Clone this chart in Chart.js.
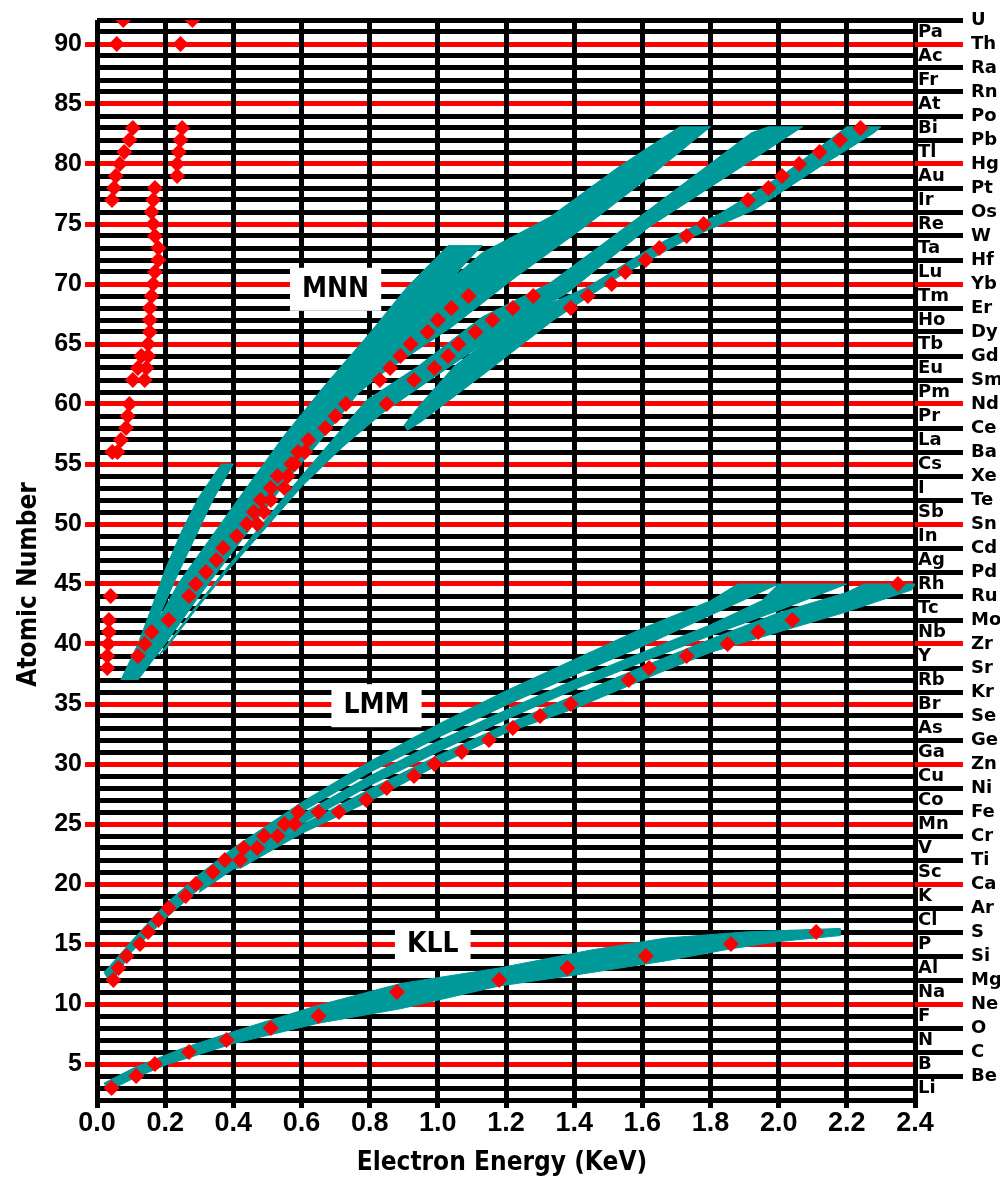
<!DOCTYPE html>
<html>
<head>
<meta charset="utf-8">
<script src="https://cdn.jsdelivr.net/npm/chart.js@4.4.1/dist/chart.umd.min.js"></script>
<style>
  html, body { margin: 0; padding: 0; background: #ffffff; }
  canvas { display: block; }
</style>
</head>
<body>
<canvas id="c" width="1000" height="1185"></canvas>
<script>
// ---------- tick / label data ----------
const xTickStep = 0.2;
const elementSymbols = ['', 'H','He','Li','Be','B','C','N','O','F','Ne','Na','Mg','Al','Si','P','S','Cl','Ar','K','Ca',
  'Sc','Ti','V','Cr','Mn','Fe','Co','Ni','Cu','Zn','Ga','Ge','As','Se','Br','Kr','Rb','Sr','Y','Zr','Nb','Mo','Tc','Ru',
  'Rh','Pd','Ag','Cd','In','Sn','Sb','Te','I','Xe','Cs','Ba','La','Ce','Pr','Nd','Pm','Sm','Eu','Gd','Tb','Dy','Ho','Er',
  'Tm','Yb','Lu','Hf','Ta','W','Re','Os','Ir','Pt','Au','Hg','Tl','Pb','Bi','Po','At','Rn','Fr','Ra','Ac','Th','Pa','U'];
const bandLabelText = ['MNN', 'LMM', 'KLL'];
const bandLabelE = [0.70, 0.82, 0.985];
const bandLabelZ = [69.6, 34.9, 15.0];

// ---------- measured Auger peaks (red diamonds): energy (keV) and atomic number ----------
const kllE = [0.043, 0.115, 0.17, 0.27, 0.38, 0.51, 0.65, 0.88, 1.18, 1.38, 1.61, 1.86, 2.11];
const kllZ = [3, 4, 5, 6, 7, 8, 9, 11, 12, 13, 14, 15, 16];

const lmm1E = [0.048, 0.063, 0.087, 0.126, 0.15, 0.18, 0.21, 0.26, 0.29, 0.34, 0.375, 0.43, 0.49, 0.55, 0.59];
const lmm1Z = [12, 13, 14, 15, 16, 17, 18, 19, 20, 21, 22, 23, 24, 25, 26];
const lmm2E = [0.42, 0.47, 0.53, 0.58, 0.65, 0.71, 0.79, 0.85, 0.93, 0.99, 1.07, 1.15, 1.22, 1.30, 1.39, 1.56, 1.62, 1.73, 1.85, 1.94, 2.04, 2.35];
const lmm2Z = [22, 23, 24, 25, 26, 26, 27, 28, 29, 30, 31, 32, 33, 34, 35, 37, 38, 39, 40, 41, 42, 45];

const mnn1E = [0.12, 0.14, 0.16, 0.21, 0.27, 0.29, 0.32, 0.35, 0.37, 0.41, 0.44, 0.46, 0.48, 0.51, 0.53, 0.57, 0.59, 0.62, 0.67, 0.70, 0.73, 0.83, 0.86, 0.89, 0.92, 0.97, 1.00, 1.04, 1.09];
const mnn1Z = [39, 40, 41, 42, 44, 45, 46, 47, 48, 49, 50, 51, 52, 53, 54, 55, 56, 57, 58, 59, 60, 62, 63, 64, 65, 66, 67, 68, 69];
const mnn2E = [0.47, 0.49, 0.51, 0.55, 0.56, 0.58, 0.61, 0.85, 0.93, 0.99, 1.03, 1.06, 1.11, 1.16, 1.22, 1.28];
const mnn2Z = [50, 51, 52, 53, 54, 55, 56, 60, 62, 63, 64, 65, 66, 67, 68, 69];
const mnn3E = [1.39, 1.44, 1.51, 1.55, 1.61, 1.65, 1.73, 1.78, 1.91, 1.97, 2.01, 2.06, 2.12, 2.18, 2.24];
const mnn3Z = [68, 69, 70, 71, 72, 73, 74, 75, 77, 78, 79, 80, 81, 82, 83];

const noo1E = [0.044, 0.05, 0.055, 0.067, 0.08, 0.095, 0.105];
const noo1Z = [77, 78, 79, 80, 81, 82, 83];
const noo2E = [0.235, 0.235, 0.24, 0.245, 0.25];
const noo2Z = [79, 80, 81, 82, 83];
const noo3E = [0.045, 0.06, 0.07, 0.085, 0.09, 0.095, 0.105, 0.12, 0.13, 0.15, 0.155, 0.155, 0.155, 0.16, 0.165, 0.17, 0.18, 0.18, 0.17, 0.165, 0.16, 0.165, 0.17, 0.14, 0.145, 0.15];
const noo3Z = [56, 56, 57, 58, 59, 60, 62, 63, 64, 65, 66, 67, 68, 69, 70, 71, 72, 73, 74, 75, 76, 77, 78, 62, 63, 64];
const mnoE = [0.03, 0.03, 0.033, 0.035, 0.035, 0.04];
const mnoZ = [38, 39, 40, 41, 42, 44];
const heavyE = [0.058, 0.077, 0.245, 0.28];
const heavyZ = [90, 92, 90, 92];

// ---------- calculated energy bands (teal outlines): [energy keV, atomic number] ----------
const kllBand = [[0.02,3.4],[0.11,4.7],[0.25,6.3],[0.40,7.7],[0.65,9.9],[0.89,11.7],[1.18,13.0],[1.45,14.5],[1.67,15.5],[1.9,16.0],[2.18,16.3],
  [2.18,15.7],[2.0,15.2],[1.86,14.6],[1.67,13.6],[1.4,12.4],[1.18,11.5],[0.89,9.6],[0.65,8.4],[0.40,6.7],[0.2,4.9],[0.1,3.7],[0.03,2.7]];
const lmmBandA = [[0.02,12.6],[0.1,15.2],[0.2,18.3],[0.3,20.8],[0.4,23.0],[0.6,26.8],[0.8,30.2],[1.0,33.3],[1.2,36.1],[1.4,38.7],[1.6,41.3],[1.8,43.6],[1.88,45],
  [2.0,45],[1.8,42.4],[1.6,39.8],[1.4,37.4],[1.2,34.9],[1.0,32.2],[0.8,29.3],[0.6,26.0],[0.4,21.6],[0.3,19.6],[0.2,17.1],[0.1,14.3],[0.04,11.6]];
const lmmBandB = [[0.30,19.8],[0.45,22.9],[0.6,25.8],[0.8,29.0],[1.0,31.9],[1.2,34.5],[1.4,37.0],[1.6,39.3],[1.8,41.6],[1.95,43.6],[2.0,45],
  [2.2,45],[2.0,42.8],[1.8,40.7],[1.6,38.5],[1.4,36.2],[1.2,33.7],[1.0,31.0],[0.8,28.2],[0.6,25.0],[0.45,22.2],[0.3,19.3]];
const lmmBandC = [[0.38,21.2],[0.45,22.2],[0.6,24.9],[0.8,27.9],[1.0,30.7],[1.2,33.3],[1.4,35.7],[1.6,38.1],[1.8,40.4],[2.0,42.6],[2.2,44.3],[2.25,45],
  [2.4,45],[2.39,44.5],[2.19,42.6],[2.0,41.0],[1.8,39.3],[1.65,37.6],[1.4,34.6],[1.2,32.6],[1.0,29.9],[0.8,26.9],[0.6,24.2],[0.5,22.6],[0.42,21.3]];
const mnnBandA = [[0.07,37],[0.12,40],[0.16,43],[0.2,46.2],[0.25,49.5],[0.3,52.3],[0.365,55],
  [0.40,55],[0.34,52],[0.29,49],[0.24,46],[0.19,42.8],[0.15,40],[0.105,37]];
const mnnBandB = [[0.08,37],[0.13,39.5],[0.24,45.1],[0.42,52.3],[0.55,57.4],[0.67,61.6],[0.80,65.9],[0.91,69.75],[1.03,73.2],
  [1.13,73.2],[1.07,71.4],[1.0,68.7],[0.90,65.3],[0.79,61.75],[0.68,57.8],[0.56,53.7],[0.42,48.5],[0.3,44],[0.2,40],[0.12,37]];
const mnnBandC = [[0.12,38],[0.2,41.5],[0.3,45.5],[0.42,50.5],[0.56,55.5],[0.68,59.5],[0.80,63.2],[0.90,66.3],[1.0,69.4],[1.13,72.6],[1.33,75.6],[1.53,79.75],[1.71,83.1],
  [1.80,83.1],[1.62,78.9],[1.43,74.75],[1.23,70.6],[1.04,66.4],[0.84,62.6],[0.74,60.3],[0.6,56.5],[0.45,51.3],[0.33,46.2],[0.22,41.5],[0.15,38.5]];
const mnnBandD = [[0.18,39],[0.3,43.5],[0.45,48.8],[0.6,54.0],[0.79,60.3],[0.94,63.1],[1.13,67.25],[1.33,70.1],[1.62,76.2],[1.92,82.6],[1.97,83.1],
  [2.07,83.1],[1.92,80.3],[1.62,74.75],[1.38,69.25],[1.18,65.9],[0.99,62.25],[0.84,59.3],[0.72,56.4],[0.60,53.1],[0.49,49.5],[0.38,46],[0.28,42.5],[0.2,39.5]];
const mnnBandE = [[0.90,58.2],[0.95,60.0],[1.05,63.2],[1.24,67.25],[1.44,69.75],[1.63,73.1],[1.83,75.9],[2.02,79.25],[2.2,83.1],
  [2.30,83.1],[2.28,82.6],[2.12,79.75],[1.93,76.2],[1.73,73.7],[1.53,70.6],[1.34,67],[1.14,62.6],[0.95,58.5],[0.91,57.8]];

// ---------- styling ----------
const TEAL = '#009999';
const RED = '#ff0000';
const BLACK = '#000000';
const tickFont = "'Liberation Sans', Arial, sans-serif";
const condFont = "'DejaVu Sans Condensed', 'DejaVu Sans', sans-serif";
const symFont = "'DejaVu Sans', sans-serif";

const toPts = (E, Z) => E.map((e, i) => ({ x: e, y: Z[i] }));
const toPoly = arr => arr.map(p => ({ x: p[0], y: p[1] }));

const pointSeries = [
  ['KLL', kllE, kllZ], ['LMM 1', lmm1E, lmm1Z], ['LMM 2', lmm2E, lmm2Z],
  ['MNN 1', mnn1E, mnn1Z], ['MNN 2', mnn2E, mnn2Z], ['MNN 3', mnn3E, mnn3Z],
  ['NOO 1', noo1E, noo1Z], ['NOO 2', noo2E, noo2Z], ['NOO 3', noo3E, noo3Z],
  ['MNO', mnoE, mnoZ], ['Th/U', heavyE, heavyZ]
];
const bandSeries = [
  ['KLL band', kllBand], ['LMM band A', lmmBandA], ['LMM band B', lmmBandB], ['LMM band C', lmmBandC],
  ['MNN band A', mnnBandA], ['MNN band B', mnnBandB], ['MNN band C', mnnBandC], ['MNN band D', mnnBandD], ['MNN band E', mnnBandE]
];

const datasets = [];
pointSeries.forEach(([label, E, Z]) => datasets.push({
  label, data: toPts(E, Z), showLine: false, order: 0,
  pointStyle: 'rectRot', pointRadius: 8, pointBackgroundColor: RED, pointBorderWidth: 0, borderWidth: 0
}));
bandSeries.forEach(([label, pts]) => datasets.push({
  label, data: toPoly(pts), showLine: true, fill: 'shape', order: 1, tension: 0,
  backgroundColor: TEAL, borderColor: TEAL, borderWidth: 1, pointRadius: 0
}));

const bandLabelPlugin = {
  id: 'bandLabels',
  beforeDatasetsDraw(chart) {
    const { ctx, scales } = chart;
    ctx.save();
    ctx.font = "bold 28px " + condFont;
    ctx.textAlign = 'center';
    ctx.textBaseline = 'middle';
    bandLabelText.forEach((t, i) => {
      const px = scales.x.getPixelForValue(bandLabelE[i]);
      const py = scales.y.getPixelForValue(bandLabelZ[i]);
      const w = ctx.measureText(t).width;
      ctx.fillStyle = '#ffffff';
      ctx.fillRect(px - w / 2 - 12, py - 21, w + 24, 43);
      ctx.fillStyle = BLACK;
      ctx.fillText(t, px, py + 1);
    });
    ctx.restore();
  }
};

const isEvenLabelRow = v => v % 2 === 0 && v >= 4;

new Chart(document.getElementById('c'), {
  type: 'scatter',
  data: { datasets },
  plugins: [bandLabelPlugin],
  options: {
    responsive: false,
    devicePixelRatio: 1,
    animation: false,
    events: [],
    layout: { padding: { top: 20, left: 0, right: 0, bottom: 0 } },
    plugins: { legend: { display: false }, tooltip: { enabled: false } },
    scales: {
      x: {
        type: 'linear', position: 'bottom', min: 0, max: 2.4,
        border: { display: false },
        grid: { color: BLACK, lineWidth: 5, tickLength: 8, tickColor: BLACK, tickWidth: 5, z: -1 },
        ticks: {
          stepSize: xTickStep, autoSkip: false, maxRotation: 0, padding: -1, color: BLACK,
          font: { family: tickFont, weight: 'bold', size: 27 },
          callback: v => Number(v).toFixed(1)
        },
        title: {
          display: true, text: 'Electron Energy (KeV) ', color: BLACK,
          font: { family: condFont, weight: 'bold', size: 26 },
          padding: { top: 0, bottom: 6 }
        },
        afterFit: s => { s.height = 85; }
      },
      y: {
        type: 'linear', position: 'left', min: 2, max: 92,
        border: { display: false },
        grid: {
          color: c => (c.tick && c.tick.value % 5 === 0 ? RED : BLACK),
          lineWidth: 5, tickLength: 12, tickWidth: 5, z: -2,
          tickColor: c => (c.tick && c.tick.value % 5 === 0 ? RED : 'rgba(0,0,0,0)')
        },
        ticks: {
          stepSize: 1, autoSkip: false, padding: 3, color: BLACK,
          font: { family: tickFont, weight: 'bold', size: 25 },
          callback: v => (v % 5 === 0 ? String(v) : '')
        },
        title: {
          display: true, text: 'Atomic Number      ', color: BLACK,
          font: { family: condFont, weight: 'bold', size: 26 },
          padding: { top: 14, bottom: 0 }
        },
        afterFit: s => { s.width = 97; }
      },
      y2: {
        type: 'linear', position: 'right', weight: 0, min: 2, max: 92,
        border: { display: false },
        grid: {
          drawOnChartArea: false, drawTicks: true, tickLength: 48, tickWidth: 5,
          tickColor: c => (c.tick && isEvenLabelRow(c.tick.value) ? (c.tick.value % 10 === 0 ? RED : BLACK) : 'rgba(0,0,0,0)')
        },
        ticks: {
          stepSize: 1, autoSkip: false, padding: -45, color: BLACK,
          font: { family: symFont, weight: 'bold', size: 18 },
          callback: v => (v % 2 === 1 ? elementSymbols[v] : '')
        },
        afterFit: s => { s.width = 48; }
      },
      y3: {
        type: 'linear', position: 'right', weight: 1, min: 2, max: 92,
        border: { display: false },
        grid: { display: false },
        ticks: {
          stepSize: 1, autoSkip: false, padding: 0, color: BLACK,
          font: { family: symFont, weight: 'bold', size: 18 },
          callback: v => (isEvenLabelRow(v) ? elementSymbols[v] : '')
        },
        afterFit: s => { s.width = 37; }
      }
    }
  }
});
</script>
</body>
</html>
